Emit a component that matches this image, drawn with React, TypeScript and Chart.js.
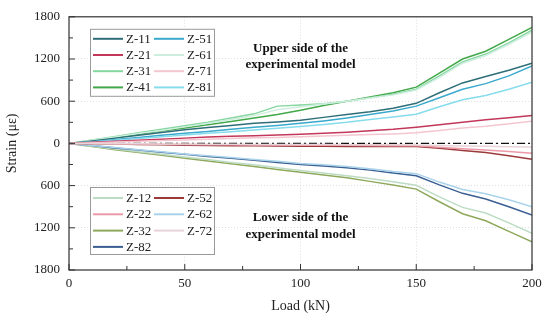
import React, { useEffect, useRef } from "react";
import { Chart, registerables } from "chart.js";

Chart.register(...registerables);

const loads = [0, 10, 20, 30, 40, 50, 60, 70, 80, 90, 100, 110, 120, 130, 140, 150, 160, 170, 180, 190, 200];

// Upper side
const z11 = [0, 35, 75, 115, 155, 195, 225, 255, 285, 305, 330, 370, 410, 450, 500, 570, 720, 860, 950, 1040, 1140];
const z21 = [0, 15, 30, 45, 60, 75, 90, 100, 110, 120, 130, 145, 160, 180, 200, 230, 265, 300, 335, 365, 395];
const z31 = [0, 50, 100, 150, 200, 250, 300, 360, 420, 530, 545, 565, 600, 650, 700, 770, 960, 1160, 1270, 1430, 1610];
const z41 = [0, 40, 85, 130, 175, 220, 265, 310, 360, 410, 470, 540, 600, 660, 720, 800, 1000, 1200, 1310, 1480, 1650];
const z51 = [0, 25, 55, 85, 115, 145, 170, 200, 230, 255, 285, 320, 360, 410, 460, 530, 650, 770, 850, 960, 1100];
const z61 = [0, 45, 90, 140, 185, 235, 285, 340, 395, 480, 520, 560, 600, 645, 690, 760, 940, 1140, 1250, 1410, 1580];
const z71 = [0, 10, 20, 30, 40, 50, 60, 70, 80, 85, 95, 105, 115, 125, 135, 150, 185, 220, 245, 280, 315];
const z81 = [0, 20, 45, 70, 95, 120, 145, 165, 190, 215, 240, 270, 300, 340, 375, 415, 520, 620, 680, 770, 870];

// Lower side
const z12 = [0, -40, -80, -120, -155, -195, -230, -270, -305, -345, -385, -420, -460, -500, -545, -595, -760, -910, -990, -1130, -1280];
const z22 = [0, -3, -6, -9, -12, -15, -18, -20, -22, -24, -25, -27, -28, -30, -32, -35, -55, -75, -95, -115, -140];
const z32 = [0, -45, -90, -130, -170, -210, -250, -290, -330, -370, -410, -450, -490, -540, -590, -650, -830, -1000, -1100, -1250, -1400];
const z52 = [0, -5, -10, -15, -20, -25, -30, -32, -35, -38, -40, -42, -45, -45, -45, -45, -70, -100, -130, -175, -225];
const z62 = [0, -30, -60, -90, -120, -150, -175, -200, -230, -255, -285, -305, -330, -360, -400, -430, -550, -655, -715, -800, -900];
const z72 = [0, -2, -4, -6, -8, -10, -12, -13, -14, -15, -16, -17, -18, -19, -20, -22, -30, -38, -42, -48, -52];
const z82 = [0, -30, -65, -95, -125, -155, -185, -210, -240, -270, -300, -320, -345, -380, -420, -460, -590, -710, -790, -900, -1020];

const yTicks = [-1800, -1200, -600, 0, 600, 1200, 1800];
const xTicks = [0, 50, 100, 150, 200];

const upperLegend = ["Z-11", "Z-21", "Z-31", "Z-41", "Z-51", "Z-61", "Z-71", "Z-81"];
const lowerLegend = ["Z-12", "Z-22", "Z-32", "Z-82", "Z-52", "Z-62", "Z-72"];

const upperText = ["Upper side of the", "experimental model"];
const lowerText = ["Lower side of the", "experimental model"];

const series: { label: string; values: number[]; color: string }[] = [
  { label: "Z-72", values: z72, color: "#e8d4d8" },
  { label: "Z-22", values: z22, color: "#ec9aa8" },
  { label: "Z-52", values: z52, color: "#9c3a3a" },
  { label: "Z-62", values: z62, color: "#a9d3ea" },
  { label: "Z-82", values: z82, color: "#3b5f92" },
  { label: "Z-12", values: z12, color: "#bcdcc4" },
  { label: "Z-32", values: z32, color: "#8fa85c" },
  { label: "Z-71", values: z71, color: "#f4c6cf" },
  { label: "Z-21", values: z21, color: "#c2375a" },
  { label: "Z-81", values: z81, color: "#86dcec" },
  { label: "Z-51", values: z51, color: "#3aa9cc" },
  { label: "Z-11", values: z11, color: "#2e6e78" },
  { label: "Z-61", values: z61, color: "#cdeede" },
  { label: "Z-31", values: z31, color: "#86d6a0" },
  { label: "Z-41", values: z41, color: "#43a84a" },
];

const SERIF = "'Liberation Serif', 'DejaVu Serif', serif";

const decorPlugin = {
  id: "decor",
  afterDatasetsDraw(chart: any) {
    const { ctx, chartArea: a, scales } = chart;
    const xs = scales.x;
    const ys = scales.y;
    ctx.save();
    // frame
    ctx.strokeStyle = "#333";
    ctx.lineWidth = 1.2;
    ctx.setLineDash([]);
    ctx.strokeRect(a.left, a.top, a.right - a.left, a.bottom - a.top);
    // inward ticks
    ctx.lineWidth = 1;
    for (let i = 0; i < xTicks.length; i++) {
      const px = xs.getPixelForValue(xTicks[i]);
      ctx.beginPath();
      ctx.moveTo(px, a.bottom);
      ctx.lineTo(px, a.bottom - 6);
      ctx.stroke();
      if (i < xTicks.length - 1) {
        const pm = xs.getPixelForValue((xTicks[i] + xTicks[i + 1]) / 2);
        ctx.beginPath();
        ctx.moveTo(pm, a.bottom);
        ctx.lineTo(pm, a.bottom - 4);
        ctx.stroke();
      }
    }
    for (let i = 0; i < yTicks.length; i++) {
      const py = ys.getPixelForValue(yTicks[i]);
      ctx.beginPath();
      ctx.moveTo(a.left, py);
      ctx.lineTo(a.left + 6, py);
      ctx.stroke();
      if (i < yTicks.length - 1) {
        const pm = ys.getPixelForValue((yTicks[i] + yTicks[i + 1]) / 2);
        ctx.beginPath();
        ctx.moveTo(a.left, pm);
        ctx.lineTo(a.left + 4, pm);
        ctx.stroke();
      }
    }

    // legends
    const colorOf = (lbl: string) => {
      const s = series.find((d) => d.label === lbl);
      return s ? s.color : "#000";
    };
    const drawLegend = (items: string[], left: number, top: number, height: number, rowH: number, firstRow: number) => {
      ctx.fillStyle = "#fff";
      ctx.fillRect(left, top, 124, height);
      ctx.strokeStyle = "#9a9a9a";
      ctx.lineWidth = 1;
      ctx.strokeRect(left + 0.5, top + 0.5, 124, height);
      ctx.font = `13px ${SERIF}`;
      ctx.textBaseline = "middle";
      ctx.textAlign = "left";
      items.forEach((lbl, i) => {
        const col = Math.floor(i / 4);
        const row = i % 4;
        const x0 = left + 3 + col * 61;
        const y0 = top + firstRow + row * rowH;
        ctx.strokeStyle = colorOf(lbl);
        ctx.lineWidth = 2;
        ctx.beginPath();
        ctx.moveTo(x0, y0);
        ctx.lineTo(x0 + 30, y0);
        ctx.stroke();
        ctx.fillStyle = "#222";
        ctx.fillText(lbl, x0 + 33, y0 + 0.5);
      });
    };
    drawLegend(upperLegend, a.left + 21, a.top + 12, 67, 16.2, 10);
    drawLegend(lowerLegend, a.left + 21, a.bottom - 83, 67, 16.3, 11);

    // annotations
    ctx.fillStyle = "#111";
    ctx.font = `bold 13px ${SERIF}`;
    ctx.textAlign = "center";
    ctx.textBaseline = "middle";
    const cx = xs.getPixelForValue(100);
    ctx.fillText(upperText[0], cx, a.top + 32);
    ctx.fillText(upperText[1], cx, a.top + 48);
    ctx.fillText(lowerText[0], cx, a.bottom - 52);
    ctx.fillText(lowerText[1], cx, a.bottom - 35);
    ctx.restore();
  },
};

export default function App() {
  const ref = useRef<HTMLCanvasElement | null>(null);
  useEffect(() => {
    if (!ref.current) return;
    const datasets: any[] = series.map((s) => ({
      label: s.label,
      data: loads.map((x, i) => ({ x, y: s.values[i] })),
      borderColor: s.color,
      backgroundColor: s.color,
      borderWidth: 1.5,
      pointRadius: 0,
      tension: 0,
      fill: false,
    }));
    datasets.push({
      label: "zero",
      data: [
        { x: loads[0], y: 0 },
        { x: loads[loads.length - 1], y: 0 },
      ],
      borderColor: "#111",
      borderWidth: 1.3,
      borderDash: [8, 3, 2, 3],
      pointRadius: 0,
      fill: false,
    });
    const chart = new Chart(ref.current, {
      type: "line",
      data: { datasets },
      plugins: [decorPlugin],
      options: {
        animation: false,
        responsive: false,
        maintainAspectRatio: false,
        devicePixelRatio: 1,
        layout: { padding: { top: 15, right: 18, left: 0, bottom: 0 } },
        plugins: { legend: { display: false }, tooltip: { enabled: false } },
        scales: {
          x: {
            type: "linear",
            min: 0,
            max: 200,
            afterFit: (s: any) => {
              s.height = 55;
            },
            afterBuildTicks: (s: any) => {
              s.ticks = xTicks.map((v) => ({ value: v }));
            },
            ticks: {
              font: { family: SERIF, size: 13 },
              color: "#222",
              padding: 6,
              maxRotation: 0,
            },
            grid: { color: "#d8d8d8", drawTicks: false, lineWidth: 0.8 },
            border: { display: false, dash: [1, 2] },
            title: {
              display: true,
              text: "Load (kN)",
              font: { family: SERIF, size: 14 },
              color: "#222",
              padding: { top: 0, bottom: 10 },
            },
          },
          y: {
            type: "linear",
            min: -1800,
            max: 1800,
            afterFit: (s: any) => {
              s.width = 69;
            },
            afterBuildTicks: (s: any) => {
              s.ticks = yTicks.map((v) => ({ value: v }));
            },
            ticks: {
              font: { family: SERIF, size: 13 },
              color: "#222",
              padding: 9,
              callback: (v: any) => String(Math.abs(Number(v))),
            },
            grid: { color: "#d8d8d8", drawTicks: false, lineWidth: 0.8 },
            border: { display: false, dash: [1, 2] },
            title: {
              display: true,
              text: "Strain (με)",
              font: { family: SERIF, size: 14 },
              color: "#222",
              padding: { top: 4, bottom: 0 },
            },
          },
        },
      },
    } as any);
    return () => chart.destroy();
  }, []);
  return (
    <div style={{ position: "fixed", left: 0, top: 0, width: 550, height: 325, background: "#fff" }}>
      <canvas ref={ref} width={550} height={325} style={{ display: "block" }} />
    </div>
  );
}
